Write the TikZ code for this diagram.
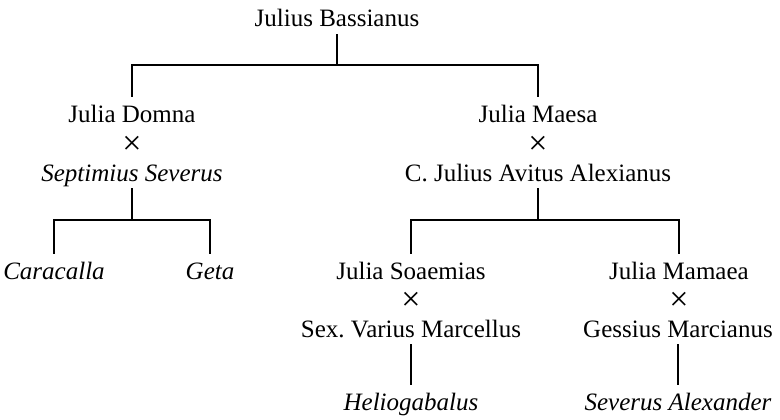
\documentclass[tikz,border=0pt]{standalone}
\usepackage{fontspec}
\setmainfont{Liberation Serif}
\begin{document}
\begin{tikzpicture}[x=1pt,y=-1pt,
  person/.style={anchor=base, inner sep=0pt, text height=25pt, text depth=7pt, font=\fontsize{25}{30}\selectfont},
  issue/.style={person, font=\fontsize{25}{30}\selectfont\itshape},
  marr/.style={anchor=center, inner sep=0pt, font=\fontsize{34}{40}\selectfont},
  link/.style={line width=1.2pt}]
\useasboundingbox (0,0) rectangle (780,420);
% generation 1
\node[person] (jb) at (337,27) {Julius Bassianus};
% generation 2
\node[person] (jd) at (132,122) {Julia Domna};
\node[marr]   (x1) at (132,145) {×};
\node[issue]  (ss) at (132,181) {Septimius Severus};
\node[person] (jm) at (538,122) {Julia Maesa};
\node[marr]   (x2) at (538,145) {×};
\node[person] (cja) at (538,181) {C.\ Julius Avitus Alexianus};
% generation 3
\node[issue]  (car) at (54,279) {Caracalla};
\node[issue]  (geta) at (210,279) {Geta};
\node[person] (soa) at (411,279) {Julia Soaemias};
\node[marr]   (x3) at (411,301) {×};
\node[person] (svm) at (411,337) {Sex.\ Varius Marcellus};
\node[person] (mam) at (679,279) {Julia Mamaea};
\node[marr]   (x4) at (679,301) {×};
\node[person] (gm) at (678,337) {Gessius Marcianus};
% generation 4
\node[issue]  (hel) at (411,410) {Heliogabalus};
\node[issue]  (sa) at (678,410) {Severus Alexander};
% junctions
\coordinate (j1) at (337,65);
\coordinate (j2) at (132,220);
\coordinate (j3) at (538,220);
% connectors
\draw[link] (jb.south) -- (j1);
\draw[link] (jd.north) |- (j1) -| (jm.north);
\draw[link] (ss.south) -- (j2);
\draw[link] (car.north) |- (j2) -| (geta.north);
\draw[link] (cja.south) -- (j3);
\draw[link] (soa.north) |- (j3) -| (mam.north);
\draw[link] (svm.south) -- (hel.north);
\draw[link] (gm.south) -- (sa.north);
\end{tikzpicture}
\end{document}
